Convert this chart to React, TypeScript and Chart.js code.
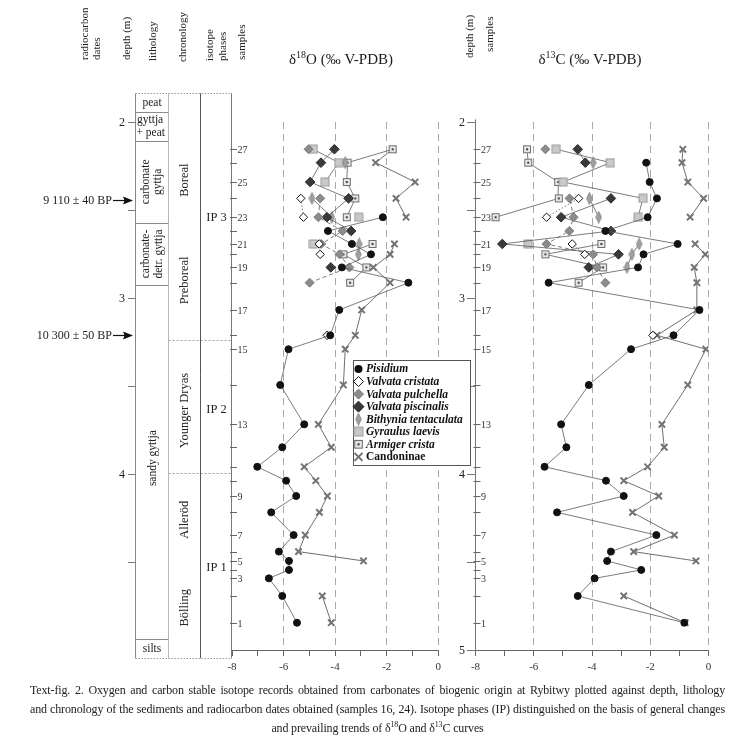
import React, { useEffect, useRef } from "react";
import { Chart, registerables } from "chart.js";

Chart.register(...registerables);

const FONT = "'Liberation Serif', 'Times New Roman', serif";

// ---------- data ----------
const samples = [1, 2, 3, 4, 5, 6, 7, 8, 9, 10, 11, 12, 13, 14, 15, 16, 17, 18, 19, 20, 21, 22, 23, 24, 25, 26, 27];
const sampleDepths = [4.845, 4.693, 4.593, 4.545, 4.494, 4.441, 4.347, 4.218, 4.125, 4.038, 3.959, 3.848, 3.718, 3.494, 3.291, 3.212, 3.068, 2.913, 2.826, 2.752, 2.693, 2.619, 2.541, 2.434, 2.341, 2.231, 2.155];
const labelledSamples = [1, 3, 5, 7, 9, 13, 15, 17, 19, 21, 23, 25, 27];
const depthTicks = [2, 2.5, 3, 3.5, 4, 4.5];
const depthTicksRight = [2, 2.5, 3, 3.5, 4, 4.5, 5];
const xTickValues = [-8, -6, -4, -2, 0];

const speciesNames = ["Pisidium", "Valvata cristata", "Valvata pulchella", "Valvata piscinalis", "Bithynia tentaculata", "Gyraulus laevis", "Armiger crista", "Candoninae"];

// δ18O (‰ V-PDB), index 0 = sample 1
const o18Pisidium = [-5.48, -6.05, -6.57, -5.79, -5.79, -6.18, -5.61, -6.48, -5.51, -5.90, -7.02, -6.05, -5.20, -6.13, -5.81, -4.19, -3.84, -1.16, -3.74, -2.61, -3.35, -4.28, -2.15, null, null, null, null];
const o18Cristata = [null, null, null, null, null, null, null, null, null, null, null, null, null, null, null, -4.31, null, null, null, -4.58, -4.62, null, -5.23, -5.33, null, null, null];
const o18Pulchella = [null, null, null, null, null, null, null, null, null, null, null, null, null, null, null, null, null, -4.99, -3.45, -3.83, -4.54, -3.71, -4.65, -4.58, null, null, -5.03];
const o18Piscinalis = [null, null, null, null, null, null, null, null, null, null, null, null, null, null, null, null, null, null, -4.17, null, null, -3.38, -4.32, -3.48, -4.97, -4.55, -4.03];
const o18Bithynia = [null, null, null, null, null, null, null, null, null, null, null, null, null, null, null, null, null, null, null, -3.10, -3.07, null, -4.13, -4.90, null, -3.61, null];
const o18Gyraulus = [null, null, null, null, null, null, null, null, null, null, null, null, null, null, null, null, null, null, null, null, -4.84, null, -3.09, null, -4.39, -3.86, -4.84];
const o18Armiger = [null, null, null, null, null, null, null, null, null, null, null, null, null, null, null, null, null, -3.42, -2.79, -3.68, -2.55, null, -3.55, -3.22, -3.55, -3.52, -1.77];
const o18Candoninae = [-4.15, -4.50, null, null, -2.90, -5.42, -5.16, -4.61, -4.30, -4.75, -5.20, -4.15, -4.65, -3.68, -3.61, -3.22, -2.97, -1.87, -2.52, -1.87, -1.70, null, -1.25, -1.64, -0.90, -2.43, -1.77];

// δ13C (‰ V-PDB), index 0 = sample 1
const c13Pisidium = [-0.83, -4.49, -3.91, -2.31, -3.48, -3.35, -1.79, -5.20, -2.91, -3.52, -5.63, -4.88, -5.06, -4.11, -2.66, -1.20, -0.31, -5.49, -2.42, -2.23, -1.06, -3.54, -2.09, -1.77, -2.02, -2.14, null];
const c13Cristata = [null, null, null, null, null, null, null, null, null, null, null, null, null, null, null, -1.91, null, null, null, -4.25, -4.68, null, -5.56, -4.46, null, null, null];
const c13Pulchella = [null, null, null, null, null, null, null, null, null, null, null, null, null, null, null, null, null, -3.54, -3.83, -3.96, -5.56, -4.78, -4.63, -4.77, null, null, -5.60];
const c13Piscinalis = [null, null, null, null, null, null, null, null, null, null, null, null, null, null, null, null, null, null, -4.11, -3.09, -7.08, -3.35, -5.06, -3.35, null, -4.23, -4.49];
const c13Bithynia = [null, null, null, null, null, null, null, null, null, null, null, null, null, null, null, null, null, null, -2.80, -2.63, -2.38, null, -3.77, -4.09, null, -3.96, null];
const c13Gyraulus = [null, null, null, null, null, null, null, null, null, null, null, null, null, null, null, null, null, null, null, null, -6.19, null, -2.42, -2.25, -4.99, -3.37, -5.23];
const c13Armiger = [null, null, null, null, null, null, null, null, null, null, null, null, null, null, null, null, null, -4.46, -3.62, -5.60, -3.68, null, -7.31, -5.14, -5.16, -6.19, -6.23];
const c13Candoninae = [-0.80, -2.91, null, null, -0.43, -2.57, -1.17, -2.61, -1.71, -2.91, -2.09, -1.52, -1.60, -0.71, -0.09, -1.77, -0.40, -0.40, -0.49, -0.11, -0.46, null, -0.63, -0.17, -0.71, -0.91, -0.88];

// lithology / chronology (depth in m)
const lithoLabels = ["peat", "gyttja + peat", "carbonate gyttja", "carbonate-detr. gyttja", "sandy gyttja", "silts"];
const lithoBounds = [1.837, 1.943, 2.108, 2.576, 2.926, 4.939, 5.047];
const chronoLabels = ["Boreal", "Preboreal", "Younger Dryas", "Alleröd", "Bölling"];
const chronoCenters = [2.33, 2.90, 3.64, 4.26, 4.76];
const zoneBounds = [3.239, 3.996];
const phaseLabels = ["IP 3", "IP 2", "IP 1"];
const phaseCenters = [2.546, 3.637, 4.535];
const radiocarbonDates = ["9 110 ± 40 BP", "10 300 ± 50 BP"];
const radiocarbonDepths = [2.443, 3.210];

// ---------- helpers ----------
function makeImg(w: number, h: number, draw: (c: CanvasRenderingContext2D) => void) {
  const c = document.createElement("canvas");
  c.width = w;
  c.height = h;
  const ctx = c.getContext("2d")!;
  draw(ctx);
  return c;
}

function vText(ctx: CanvasRenderingContext2D, text: string, x: number, y: number, align: CanvasTextAlign) {
  ctx.save();
  ctx.translate(x, y);
  ctx.rotate(-Math.PI / 2);
  ctx.textAlign = align;
  ctx.textBaseline = "middle";
  ctx.fillText(text, 0, 0);
  ctx.restore();
}

function drawTitle(ctx: CanvasRenderingContext2D, sup: string, rest: string, cx: number, y: number) {
  ctx.save();
  ctx.fillStyle = "#1a1a1a";
  ctx.textBaseline = "middle";
  ctx.textAlign = "left";
  const big = `15px ${FONT}`;
  const small = `10px ${FONT}`;
  ctx.font = big;
  const wD = ctx.measureText("δ").width;
  const wR = ctx.measureText(rest).width;
  ctx.font = small;
  const wS = ctx.measureText(sup).width;
  let x = cx - (wD + wS + wR) / 2;
  ctx.font = big;
  ctx.fillText("δ", x, y);
  x += wD;
  ctx.font = small;
  ctx.fillText(sup, x, y - 5);
  x += wS;
  ctx.font = big;
  ctx.fillText(rest, x, y);
  ctx.restore();
}

function buildData(vals: (number | null)[]) {
  return sampleDepths.map((d, i) => ({ x: vals[i], y: d }));
}

export default function App() {
  const refA = useRef<HTMLCanvasElement>(null);
  const refB = useRef<HTMLCanvasElement>(null);

  useEffect(() => {
    const bithyniaImg = makeImg(7, 13, (c) => {
      c.beginPath();
      c.moveTo(3.5, 0.5);
      c.lineTo(6.3, 6.5);
      c.lineTo(3.5, 12.5);
      c.lineTo(0.7, 6.5);
      c.closePath();
      c.fillStyle = "#a0a0a0";
      c.fill();
      c.strokeStyle = "#808080";
      c.lineWidth = 0.8;
      c.stroke();
    });
    const gyraulusImg = makeImg(10, 10, (c) => {
      c.fillStyle = "#c9c9c9";
      c.fillRect(1, 1, 8, 8);
      c.strokeStyle = "#9a9a9a";
      c.lineWidth = 1;
      c.strokeRect(1, 1, 8, 8);
    });
    const armigerImg = makeImg(10, 10, (c) => {
      c.fillStyle = "#e6e6e6";
      c.fillRect(1, 1, 8, 8);
      c.strokeStyle = "#6e6e6e";
      c.lineWidth = 1;
      c.strokeRect(1.5, 1.5, 7, 7);
      c.fillStyle = "#444";
      c.fillRect(4, 4, 2, 2);
    });

    const seriesStyle = [
      { pointStyle: "circle", pointRadius: 3.5, bg: "#111", bc: "#111", bw: 1, dash: [] as number[] },
      { pointStyle: "rectRot", pointRadius: 4.2, bg: "#ffffff", bc: "#111", bw: 1, dash: [1.5, 2] },
      { pointStyle: "rectRot", pointRadius: 4.5, bg: "#8c8c8c", bc: "#7a7a7a", bw: 1, dash: [4, 3] },
      { pointStyle: "rectRot", pointRadius: 4.8, bg: "#3a3a3a", bc: "#2a2a2a", bw: 1, dash: [] },
      { pointStyle: bithyniaImg, pointRadius: 5, bg: "#a0a0a0", bc: "#808080", bw: 1, dash: [] },
      { pointStyle: gyraulusImg, pointRadius: 5, bg: "#c9c9c9", bc: "#9a9a9a", bw: 1, dash: [] },
      { pointStyle: armigerImg, pointRadius: 5, bg: "#e6e6e6", bc: "#6e6e6e", bw: 1, dash: [] },
      { pointStyle: "crossRot", pointRadius: 4.5, bg: "#777", bc: "#737373", bw: 2, dash: [] },
    ];

    const o18 = [o18Pisidium, o18Cristata, o18Pulchella, o18Piscinalis, o18Bithynia, o18Gyraulus, o18Armiger, o18Candoninae];
    const c13 = [c13Pisidium, c13Cristata, c13Pulchella, c13Piscinalis, c13Bithynia, c13Gyraulus, c13Armiger, c13Candoninae];

    const makeDatasets = (vals: (number | null)[][]) =>
      vals.map((v, i) => ({
        label: speciesNames[i],
        data: buildData(v),
        showLine: true,
        spanGaps: false,
        borderColor: i === 7 ? "#4a4a4a" : "#5a5a5a",
        borderWidth: 0.8,
        borderDash: seriesStyle[i].dash,
        pointStyle: seriesStyle[i].pointStyle as any,
        pointRadius: seriesStyle[i].pointRadius,
        pointBackgroundColor: seriesStyle[i].bg,
        pointBorderColor: seriesStyle[i].bc,
        pointBorderWidth: seriesStyle[i].bw,
        order: i === 7 ? 10 : i,
      }));

    const xScale = () => ({
      type: "linear" as const,
      min: -8,
      max: 0,
      afterBuildTicks: (s: any) => {
        s.ticks = [-8, -7, -6, -5, -4, -3, -2, -1, 0].map((v) => ({ value: v }));
      },
      ticks: {
        autoSkip: false,
        maxRotation: 0,
        padding: 5,
        color: "#333",
        font: { family: FONT, size: 11 },
        callback: (v: any) => (xTickValues.includes(Number(v)) ? String(v) : ""),
      },
      grid: {
        color: (ctx: any) => (ctx.tick && xTickValues.includes(ctx.tick.value) && ctx.tick.value !== -8 ? "#a8a8a8" : "rgba(0,0,0,0)"),
        tickColor: "#666",
        tickLength: 6,
        lineWidth: 1,
      },
      border: { display: true, color: "#666", width: 1, dash: [7, 5] },
      afterFit: (s: any) => {
        s.height = 30;
      },
    });

    const yScale = () => ({ type: "linear" as const, reverse: true, min: 2, max: 5, display: false });

    const sampleAxis = (ctx: CanvasRenderingContext2D, Y: (d: number) => number, x: number) => {
      ctx.save();
      ctx.strokeStyle = "#666";
      ctx.lineWidth = 1;
      ctx.fillStyle = "#333";
      ctx.font = `10px ${FONT}`;
      ctx.textAlign = "left";
      ctx.textBaseline = "middle";
      samples.forEach((s, i) => {
        const y = Math.round(Y(sampleDepths[i])) + 0.5;
        ctx.beginPath();
        ctx.moveTo(x - 2, y);
        ctx.lineTo(x + 5, y);
        ctx.stroke();
        if (labelledSamples.includes(s)) ctx.fillText(String(s), x + 5.5, y + 0.5);
      });
      ctx.restore();
    };

    const decorA = {
      id: "decorA",
      afterDraw(chart: any) {
        const ctx: CanvasRenderingContext2D = chart.ctx;
        const Y = (d: number) => chart.scales.y.getPixelForValue(d);
        const L1 = 135.5, L2 = 168.5, L3 = 200.5, L4 = 232;
        const top = Y(lithoBounds[0]);
        const bot = Y(lithoBounds[lithoBounds.length - 1]);
        ctx.save();
        ctx.strokeStyle = "#9a9a9a";
        ctx.lineWidth = 1;
        ctx.setLineDash([1.5, 1.5]);
        ctx.beginPath();
        ctx.moveTo(L1, Math.round(top) + 0.5);
        ctx.lineTo(L4, Math.round(top) + 0.5);
        ctx.moveTo(L1, Math.round(bot) + 0.5);
        ctx.lineTo(L4, Math.round(bot) + 0.5);
        ctx.stroke();
        ctx.setLineDash([2, 2]);
        ctx.beginPath();
        zoneBounds.forEach((d) => {
          const y = Math.round(Y(d)) + 0.5;
          ctx.moveTo(L2, y);
          ctx.lineTo(L4, y);
        });
        ctx.stroke();
        ctx.setLineDash([]);
        const vline = (x: number, c: string) => {
          ctx.strokeStyle = c;
          ctx.beginPath();
          ctx.moveTo(x, top);
          ctx.lineTo(x, bot);
          ctx.stroke();
        };
        vline(L1, "#8a8a8a");
        vline(L2, "#b8b8b8");
        vline(L3, "#555");
        vline(L4 - 0.5, "#777");
        ctx.strokeStyle = "#8a8a8a";
        ctx.beginPath();
        lithoBounds.slice(1, -1).forEach((d) => {
          const y = Math.round(Y(d)) + 0.5;
          ctx.moveTo(L1, y);
          ctx.lineTo(L2, y);
        });
        ctx.stroke();

        // depth axis
        ctx.strokeStyle = "#777";
        ctx.fillStyle = "#222";
        ctx.font = `12px ${FONT}`;
        ctx.textAlign = "right";
        ctx.textBaseline = "middle";
        depthTicks.forEach((d) => {
          const y = Math.round(Y(d)) + 0.5;
          ctx.beginPath();
          ctx.moveTo(128, y);
          ctx.lineTo(L1, y);
          ctx.stroke();
          if (Number.isInteger(d)) ctx.fillText(String(d), 125, y);
        });

        // lithology text
        ctx.fillStyle = "#222";
        ctx.font = `11.5px ${FONT}`;
        ctx.textAlign = "center";
        ctx.fillText(lithoLabels[0], 152, Y(1.89));
        ctx.textAlign = "left";
        ctx.fillText("gyttja", 137, Y(1.99));
        ctx.fillText("+ peat", 136.5, Y(2.06));
        vText(ctx, "carbonate", 146, Y(2.34), "center");
        vText(ctx, "gyttja", 158, Y(2.34), "center");
        vText(ctx, "carbonate-", 146, Y(2.75), "center");
        vText(ctx, "detr. gyttja", 159, Y(2.75), "center");
        vText(ctx, lithoLabels[4], 152.5, Y(3.91), "center");
        ctx.textAlign = "center";
        ctx.fillText(lithoLabels[5], 152, Y(4.995));

        // chronology
        ctx.font = `12.5px ${FONT}`;
        chronoLabels.forEach((t, i) => vText(ctx, t, 184.5, Y(chronoCenters[i]), "center"));
        ctx.textAlign = "center";
        phaseLabels.forEach((t, i) => ctx.fillText(t, 216.5, Y(phaseCenters[i])));

        // radiocarbon dates
        ctx.font = `12px ${FONT}`;
        ctx.textAlign = "right";
        radiocarbonDates.forEach((t, i) => {
          const y = Math.round(Y(radiocarbonDepths[i])) + 0.5;
          ctx.fillText(t, 112, y);
          ctx.strokeStyle = "#111";
          ctx.lineWidth = 1.2;
          ctx.beginPath();
          ctx.moveTo(113, y);
          ctx.lineTo(125, y);
          ctx.stroke();
          ctx.beginPath();
          ctx.moveTo(133, y);
          ctx.lineTo(123, y - 4);
          ctx.lineTo(124.5, y);
          ctx.lineTo(123, y + 4);
          ctx.closePath();
          ctx.fillStyle = "#111";
          ctx.fill();
          ctx.fillStyle = "#222";
        });

        // headers
        ctx.font = `11px ${FONT}`;
        ctx.fillStyle = "#222";
        vText(ctx, "radiocarbon", 85, 60, "left");
        vText(ctx, "dates", 97, 60, "left");
        vText(ctx, "depth (m)", 127, 60, "left");
        vText(ctx, "lithology", 153.5, 61, "left");
        vText(ctx, "chronology", 183.5, 62, "left");
        vText(ctx, "isotope", 210, 61, "left");
        vText(ctx, "phases", 223, 61, "left");
        vText(ctx, "samples", 242, 60, "left");
        ctx.restore();

        sampleAxis(ctx, Y, 232);
        drawTitle(ctx, "18", "O (‰ V-PDB)", 341, 60);
      },
    };

    const decorB = {
      id: "decorB",
      afterDraw(chart: any) {
        const ctx: CanvasRenderingContext2D = chart.ctx;
        const Y = (d: number) => chart.scales.y.getPixelForValue(d);
        const AX = 475.5;
        ctx.save();
        ctx.strokeStyle = "#777";
        ctx.lineWidth = 1;
        ctx.beginPath();
        ctx.moveTo(AX, Y(1.985));
        ctx.lineTo(AX, Y(5));
        ctx.stroke();
        ctx.fillStyle = "#222";
        ctx.font = `12px ${FONT}`;
        ctx.textAlign = "right";
        ctx.textBaseline = "middle";
        depthTicksRight.forEach((d) => {
          const y = Math.round(Y(d)) + 0.5;
          ctx.beginPath();
          ctx.moveTo(467, y);
          ctx.lineTo(AX, y);
          ctx.stroke();
          if (Number.isInteger(d)) ctx.fillText(String(d), 465, y);
        });
        ctx.font = `11px ${FONT}`;
        vText(ctx, "depth (m)", 470, 58, "left");
        vText(ctx, "samples", 490, 52, "left");
        ctx.restore();

        sampleAxis(ctx, Y, 475.5);
        drawTitle(ctx, "13", "C (‰ V-PDB)", 590, 60);

        // legend
        ctx.save();
        const bx = 353.5, by = 360.5, bw = 117, bh = 105;
        ctx.fillStyle = "#fff";
        ctx.fillRect(bx, by, bw, bh);
        ctx.strokeStyle = "#555";
        ctx.lineWidth = 1;
        ctx.strokeRect(bx, by, bw, bh);
        const sx = 358.5;
        speciesNames.forEach((name, i) => {
          const y = 369 + i * 12.55;
          const st = seriesStyle[i];
          ctx.save();
          if (i === 0) {
            ctx.beginPath();
            ctx.arc(sx, y, 4, 0, Math.PI * 2);
            ctx.fillStyle = "#111";
            ctx.fill();
          } else if (i >= 1 && i <= 3) {
            const r = i === 3 ? 5.5 : 5;
            ctx.beginPath();
            ctx.moveTo(sx, y - r);
            ctx.lineTo(sx + r, y);
            ctx.lineTo(sx, y + r);
            ctx.lineTo(sx - r, y);
            ctx.closePath();
            ctx.fillStyle = st.bg;
            ctx.fill();
            ctx.strokeStyle = st.bc;
            ctx.lineWidth = 1;
            ctx.stroke();
          } else if (i >= 4 && i <= 6) {
            const img = st.pointStyle as HTMLCanvasElement;
            const s = i === 4 ? 1 : 1.1;
            ctx.drawImage(img, sx - (img.width * s) / 2, y - (img.height * s) / 2, img.width * s, img.height * s);
          } else {
            ctx.strokeStyle = "#707070";
            ctx.lineWidth = 2;
            ctx.beginPath();
            ctx.moveTo(sx - 4, y - 4);
            ctx.lineTo(sx + 4, y + 4);
            ctx.moveTo(sx + 4, y - 4);
            ctx.lineTo(sx - 4, y + 4);
            ctx.stroke();
          }
          ctx.restore();
          ctx.fillStyle = "#111";
          ctx.font = i === 7 ? `bold 11.5px ${FONT}` : `italic bold 11.5px ${FONT}`;
          ctx.textAlign = "left";
          ctx.textBaseline = "middle";
          ctx.fillText(name, 366, y + 0.5);
        });
        ctx.restore();
      },
    };

    const common = (padding: any) => ({
      responsive: false,
      maintainAspectRatio: false,
      animation: false as const,
      events: [] as any[],
      layout: { padding },
      plugins: { legend: { display: false }, tooltip: { enabled: false }, title: { display: false } },
      scales: { x: xScale(), y: yScale() },
    });

    const chartA = new Chart(refA.current!, {
      type: "scatter",
      data: { datasets: makeDatasets(o18) as any },
      options: common({ left: 232, right: 756 - 438.3, top: 122, bottom: 10 }) as any,
      plugins: [decorA],
    });
    const chartB = new Chart(refB.current!, {
      type: "scatter",
      data: { datasets: makeDatasets(c13) as any },
      options: common({ left: 475.5, right: 756 - 708.5, top: 122, bottom: 10 }) as any,
      plugins: [decorB],
    });
    return () => {
      chartA.destroy();
      chartB.destroy();
    };
  }, []);

  const supStyle: React.CSSProperties = { fontSize: 8, verticalAlign: "super", lineHeight: 0 };
  const lineBase: React.CSSProperties = {
    position: "absolute",
    left: 30,
    width: 695,
    fontFamily: FONT,
    fontSize: 12,
    lineHeight: "19px",
    color: "#222",
    whiteSpace: "nowrap",
    letterSpacing: "-0.15px",
  };
  const justified: React.CSSProperties = { ...lineBase, whiteSpace: "normal", textAlign: "justify", textAlignLast: "justify" as any };
  return (
    <div style={{ position: "absolute", left: 0, top: 0, width: 756, height: 751, background: "#fff", overflow: "hidden" }}>
      <canvas ref={refA} width={756} height={690} style={{ position: "absolute", left: 0, top: 0, width: 756, height: 690 }} />
      <canvas ref={refB} width={756} height={690} style={{ position: "absolute", left: 0, top: 0, width: 756, height: 690 }} />
      <div style={{ ...justified, top: 681 }}>
        Text-fig. 2. Oxygen and carbon stable isotope records obtained from carbonates of biogenic origin at Rybitwy plotted against depth, lithology
      </div>
      <div style={{ ...justified, top: 700 }}>
        and chronology of the sediments and radiocarbon dates obtained (samples 16, 24). Isotope phases (IP) distinguished on the basis of general changes
      </div>
      <div style={{ ...lineBase, top: 719, textAlign: "center" }}>
        and prevailing trends of δ<span style={supStyle}>18</span>O and δ<span style={supStyle}>13</span>C curves
      </div>
    </div>
  );
}
